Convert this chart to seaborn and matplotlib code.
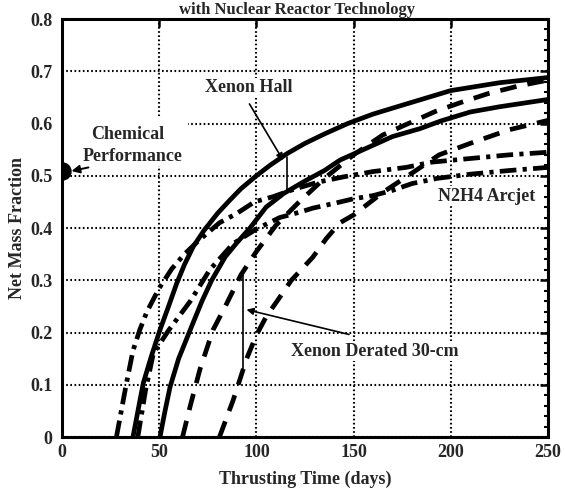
import matplotlib
matplotlib.use('Agg')
import matplotlib.pyplot as plt
import seaborn as sns
import pandas as pd
from matplotlib.patches import Rectangle
from matplotlib.ticker import MultipleLocator, FuncFormatter

# ---------------- data ----------------
# Xenon Hall (solid), higher curve
hall_hi_t = [36.5, 41.8, 46, 50.4, 55, 59, 63, 67.6, 73, 80, 86, 92, 100, 107, 115.6,
             125, 135, 147, 160, 175, 200, 225, 250]
hall_hi_f = [0, 0.103, 0.155, 0.205, 0.252, 0.294, 0.33, 0.365, 0.395, 0.428, 0.452,
             0.475, 0.50, 0.52, 0.542, 0.562, 0.58, 0.60, 0.618, 0.635, 0.663, 0.678, 0.688]
# Xenon Hall (solid), lower curve
hall_lo_t = [50.4, 53, 55.6, 60, 66.5, 72, 77, 84, 90, 96.7, 105, 114, 125, 135, 143,
             155, 170, 184, 195, 210, 225, 250]
hall_lo_f = [0, 0.05, 0.096, 0.15, 0.21, 0.26, 0.30, 0.345, 0.372, 0.40, 0.44, 0.466,
             0.49, 0.51, 0.53, 0.55, 0.575, 0.59, 0.605, 0.622, 0.632, 0.646]
# Xenon Derated 30-cm (dashed), upper curve
ion_hi_t = [62, 66, 71, 77.7, 84, 92, 100, 110, 122, 135, 150, 165, 180, 192, 205,
            219, 235, 250]
ion_hi_f = [0, 0.06, 0.13, 0.205, 0.25, 0.31, 0.355, 0.405, 0.45, 0.495, 0.54, 0.578,
            0.603, 0.623, 0.64, 0.657, 0.672, 0.683]
# Xenon Derated 30-cm (dashed), lower curve
ion_lo_t = [81, 84.5, 88, 95, 100, 105, 111, 118, 129, 136, 143, 150, 165, 180, 194,
            210, 230, 250]
ion_lo_f = [0, 0.035, 0.07, 0.15, 0.195, 0.23, 0.262, 0.30, 0.344, 0.38, 0.41, 0.425,
            0.468, 0.505, 0.54, 0.562, 0.588, 0.606]
# N2H4 Arcjet (dash-dot), upper curve
arc_hi_t = [28, 31, 33, 36.5, 40, 43.7, 50, 56.5, 63, 70, 81, 90, 99, 108.6, 120, 132,
            145, 160, 177, 190, 210, 230, 250]
arc_hi_f = [0, 0.06, 0.10, 0.165, 0.205, 0.24, 0.285, 0.322, 0.35, 0.375, 0.41, 0.428,
            0.45, 0.46, 0.475, 0.488, 0.498, 0.508, 0.516, 0.526, 0.533, 0.54, 0.545]
# N2H4 Arcjet (dash-dot), lower curve
arc_lo_t = [39, 43, 47, 55, 62, 66, 76, 88, 100, 112, 122, 129, 141, 150, 160, 170,
            180, 193, 210, 230, 250]
arc_lo_f = [0, 0.09, 0.16, 0.205, 0.24, 0.26, 0.32, 0.37, 0.398, 0.42, 0.43, 0.438,
            0.448, 0.456, 0.462, 0.472, 0.485, 0.495, 0.503, 0.51, 0.516]

chem_t = [0]
chem_f = [0.51]

x_ticks = [0, 50, 100, 150, 200, 250]
y_ticks = [0, 0.1, 0.2, 0.3, 0.4, 0.5, 0.6, 0.7, 0.8]

# ---------------- styling ----------------
sns.set_theme(style='white')
plt.rcParams['font.family'] = ['Liberation Serif', 'DejaVu Serif']
plt.rcParams['font.weight'] = 'bold'
plt.rcParams['axes.labelweight'] = 'bold'
plt.rcParams['lines.scale_dashes'] = False

FS = 13
fig = plt.figure(figsize=(5.65, 4.91), dpi=100)
ax = fig.add_axes([62 / 565, 1 - 437 / 491, (548 - 62) / 565, (437 - 19) / 491])

LW = 3.4
series = [
    (hall_hi_t, hall_hi_f, None),
    (hall_lo_t, hall_lo_f, None),
    (ion_hi_t, ion_hi_f, (12, 8)),
    (ion_lo_t, ion_lo_f, (12, 8)),
    (arc_hi_t, arc_hi_f, (12, 4.5, 3, 4.5)),
    (arc_lo_t, arc_lo_f, (12, 4.5, 3, 4.5)),
]
for t, f, dash in series:
    df = pd.DataFrame({'t': t, 'f': f})
    n_before = len(ax.lines)
    sns.lineplot(data=df, x='t', y='f', ax=ax, color='black', linewidth=LW,
                 estimator=None, sort=False, legend=False)
    for ln in ax.lines[n_before:]:
        ln.set_solid_joinstyle('round')
        ln.set_dash_joinstyle('round')
        ln.set_zorder(2)
        if dash is not None:
            ln.set_dashes(dash)

# chemical performance point (half hidden behind the left axis)
sns.scatterplot(x=chem_t, y=chem_f, ax=ax, color='black', s=150, marker='o',
                edgecolor='black', zorder=3, legend=False)

ax.set_xlim(0, 250)
ax.set_ylim(0, 0.8)
ax.set_xticks(x_ticks)
ax.set_yticks(y_ticks)
ax.yaxis.set_minor_locator(MultipleLocator(0.02))
ax.yaxis.set_major_formatter(FuncFormatter(lambda v, p: '0' if abs(v) < 1e-9 else f'{v:.1f}'))

ax.grid(True, which='major', color='black', linestyle=(0, (1.2, 1.8)), linewidth=1.5)
ax.set_axisbelow(True)

# blank area behind "Chemical Performance" (grid hidden there)
ax.add_patch(Rectangle((0.8, 0.518), 64, 0.097, facecolor='white', edgecolor='none', zorder=1))

for s in ax.spines.values():
    s.set_linewidth(2.2)
    s.set_color('black')
ax.tick_params(which='both', direction='in', top=True, right=True, color='black')
ax.tick_params(which='major', length=6, width=1.8, labelsize=FS, pad=5)
ax.tick_params(axis='y', which='major', pad=7)
ax.tick_params(which='minor', length=3, width=1.5)
for lab in ax.get_xticklabels() + ax.get_yticklabels():
    lab.set_fontweight('bold')

ax.set_xlabel('Thrusting Time (days)', fontsize=FS, fontweight='bold', labelpad=7)
ax.set_ylabel('Net Mass Fraction', fontsize=FS, fontweight='bold', labelpad=3)

# annotations
tb = dict(facecolor='white', edgecolor='none', pad=1)
ax.text(34, 0.578, 'Chemical', ha='center', va='center', fontsize=FS, fontweight='bold', zorder=1.5)
ax.text(36.3, 0.536, 'Performance', ha='center', va='center', fontsize=FS, fontweight='bold', zorder=1.5)
ax.annotate('', xy=(3.5, 0.508), xytext=(15, 0.517),
            arrowprops=dict(arrowstyle='-|>', color='black', lw=1.4, mutation_scale=12))

ax.text(96, 0.668, 'Xenon Hall', ha='center', va='center', fontsize=FS, fontweight='bold',
        bbox=tb, zorder=1.5)
ax.annotate('', xy=(114.5, 0.525), xytext=(95.7, 0.642),
            arrowprops=dict(arrowstyle='-|>', color='black', lw=1.2, mutation_scale=10))
ax.plot([115.6, 115.6], [0.535, 0.472], color='black', lw=1.2, zorder=2)

ax.text(161, 0.164, 'Xenon Derated 30-cm', ha='center', va='center', fontsize=FS,
        fontweight='bold', bbox=tb, zorder=1.5)
ax.annotate('', xy=(93.5, 0.245), xytext=(149, 0.195),
            arrowprops=dict(arrowstyle='-|>', color='black', lw=1.2, mutation_scale=10))
ax.plot([93, 93], [0.32, 0.13], color='black', lw=1.2, zorder=2)

ax.text(218.6, 0.461, 'N2H4 Arcjet', ha='center', va='center', fontsize=FS,
        fontweight='bold', bbox=tb, zorder=1.5)

# heading at the top edge (kept fully inside the picture)
fig.text(0.526, 1 - 1.5 / 491, 'with Nuclear Reactor Technology', ha='center', va='top',
         fontsize=12, fontweight='bold')

fig.savefig('out.png', dpi=100, facecolor='white')
